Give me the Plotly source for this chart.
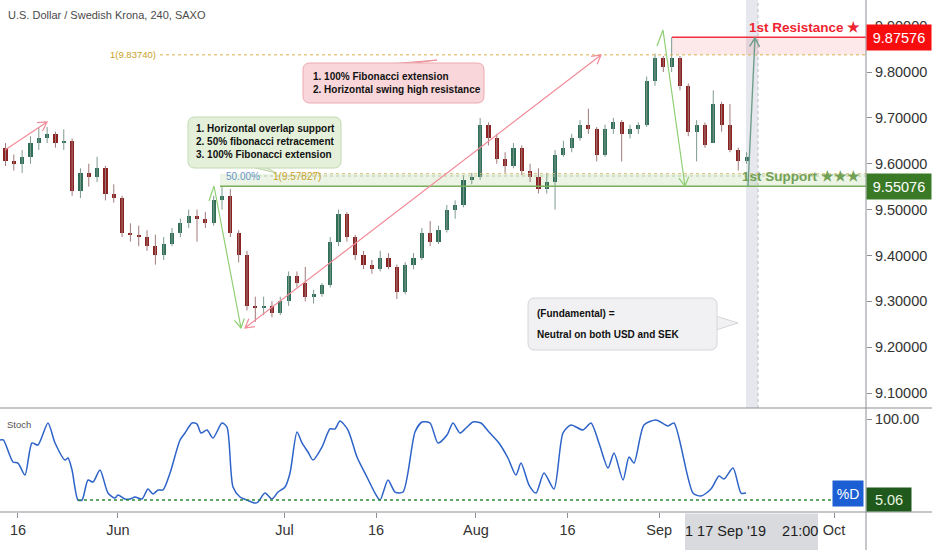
import math
import numpy as np
import pandas as pd
import plotly.graph_objects as go

TITLE = "U.S. Dollar / Swedish Krona, 240, SAXO"

# ---------------- data ----------------
dates = pd.bdate_range("2019-05-14", "2019-09-16")   # 90 trading days (weekends removed)

open_ = [9.635, 9.605, 9.600, 9.615, 9.645, 9.655, 9.665, 9.645, 9.650, 9.540,
         9.580, 9.570, 9.590, 9.535, 9.525, 9.450, 9.445, 9.440, 9.420, 9.400,
         9.425, 9.450, 9.470, 9.485, 9.480, 9.470, 9.520, 9.530, 9.450, 9.400,
         9.290, 9.285, 9.290, 9.275, 9.300, 9.355, 9.340, 9.310, 9.315, 9.335,
         9.430, 9.490, 9.440, 9.400, 9.380, 9.370, 9.395, 9.375, 9.320, 9.380,
         9.395, 9.450, 9.430, 9.455, 9.500, 9.510, 9.565, 9.570, 9.685, 9.655,
         9.610, 9.595, 9.635, 9.585, 9.570, 9.545, 9.560, 9.620, 9.635, 9.655,
         9.685, 9.675, 9.620, 9.675, 9.690, 9.665, 9.675, 9.685, 9.780, 9.830,
         9.810, 9.830, 9.770, 9.670, 9.685, 9.645, 9.730, 9.685, 9.630, 9.605]
high = [9.645, 9.620, 9.630, 9.660, 9.680, 9.680, 9.670, 9.675, 9.655, 9.590,
        9.600, 9.615, 9.595, 9.555, 9.530, 9.470, 9.465, 9.455, 9.445, 9.440,
        9.460, 9.480, 9.500, 9.500, 9.495, 9.530, 9.550, 9.545, 9.455, 9.410,
        9.310, 9.310, 9.300, 9.310, 9.365, 9.365, 9.375, 9.325, 9.340, 9.440,
        9.500, 9.495, 9.445, 9.410, 9.390, 9.410, 9.405, 9.380, 9.385, 9.405,
        9.460, 9.475, 9.465, 9.510, 9.520, 9.575, 9.580, 9.700, 9.690, 9.665,
        9.625, 9.645, 9.640, 9.600, 9.590, 9.580, 9.630, 9.650, 9.665, 9.695,
        9.720, 9.680, 9.685, 9.700, 9.695, 9.685, 9.690, 9.790, 9.840, 9.835,
        9.876, 9.835, 9.775, 9.695, 9.690, 9.760, 9.735, 9.730, 9.635, 9.625]
low = [9.595, 9.585, 9.580, 9.600, 9.630, 9.645, 9.635, 9.630, 9.530, 9.525,
       9.550, 9.560, 9.520, 9.515, 9.440, 9.430, 9.420, 9.410, 9.380, 9.390,
       9.420, 9.440, 9.460, 9.430, 9.460, 9.465, 9.500, 9.440, 9.385, 9.280,
       9.255, 9.270, 9.265, 9.270, 9.290, 9.330, 9.300, 9.295, 9.310, 9.330,
       9.420, 9.430, 9.390, 9.370, 9.360, 9.365, 9.370, 9.305, 9.315, 9.370,
       9.390, 9.420, 9.425, 9.450, 9.480, 9.505, 9.555, 9.565, 9.640, 9.600,
       9.580, 9.590, 9.575, 9.560, 9.535, 9.535, 9.500, 9.615, 9.625, 9.650,
       9.665, 9.605, 9.615, 9.665, 9.605, 9.655, 9.665, 9.680, 9.770, 9.800,
       9.800, 9.760, 9.660, 9.605, 9.635, 9.645, 9.670, 9.625, 9.585, 9.600]
close = [9.605, 9.600, 9.615, 9.645, 9.655, 9.665, 9.645, 9.650, 9.540, 9.580,
         9.570, 9.590, 9.535, 9.525, 9.450, 9.445, 9.440, 9.420, 9.400, 9.425,
         9.450, 9.470, 9.485, 9.480, 9.470, 9.520, 9.530, 9.450, 9.400, 9.290,
         9.285, 9.290, 9.275, 9.300, 9.355, 9.340, 9.310, 9.315, 9.335, 9.430,
         9.490, 9.440, 9.400, 9.380, 9.370, 9.395, 9.375, 9.320, 9.380, 9.395,
         9.450, 9.430, 9.455, 9.500, 9.510, 9.565, 9.570, 9.685, 9.655, 9.610,
         9.595, 9.635, 9.585, 9.570, 9.545, 9.560, 9.620, 9.635, 9.655, 9.685,
         9.675, 9.620, 9.675, 9.690, 9.665, 9.675, 9.685, 9.780, 9.830, 9.810,
         9.830, 9.770, 9.670, 9.685, 9.640, 9.730, 9.685, 9.630, 9.605, 9.615]

# Stochastic %D, sampled along the trading-day scale
stoch_x = [0.84, 1.24, 2.40, 3.00, 3.84, 4.68, 5.40, 6.60, 7.45, 8.65, 9.01, 9.49, 10.21, 10.69,
           11.41, 12.01, 12.85, 13.81, 14.65, 15.01, 15.85, 16.45, 17.05, 17.89, 18.61, 19.21,
           19.82, 20.42, 21.26, 22.46, 23.06, 23.90, 24.50, 24.98, 25.70, 26.42, 27.50, 28.10,
           28.82, 29.66, 30.50, 31.46, 31.82, 32.66, 33.50, 34.23, 35.07, 35.67, 36.51, 37.11,
           37.83, 38.43, 39.51, 40.47, 41.07, 41.67, 42.63, 43.71, 44.91, 45.88, 46.48, 47.44,
           48.28, 49.24, 50.68, 51.52, 52.48, 53.44, 54.52, 55.24, 56.08, 56.80, 57.64, 58.60,
           59.56, 60.76, 61.84, 62.80, 63.41, 64.37, 65.21, 66.17, 67.37, 68.45, 69.41, 70.85,
           71.81, 72.77, 73.86, 74.58, 75.66, 76.38, 76.98, 78.18, 79.62, 81.06, 81.78, 84.06,
           85.02, 86.22, 87.19, 87.79, 88.87, 89.83, 90.43]
stoch_v = [75.4, 75.4, 49.6, 48.4, 34.3, 71.9, 69.5, 95.3, 71.9, 51.9, 54.3, 40.2, 5.0, 5.0,
           28.5, 26.1, 40.2, 13.2, 7.4, 10.9, 6.2, 6.2, 8.6, 6.2, 17.9, 12.1,
           16.8, 16.8, 36.7, 75.4, 83.6, 95.3, 94.1, 83.6, 87.1, 77.7, 95.3, 90.6,
           20.3, 8.6, 5.0, 1.5, 2.7, 13.2, 6.2, 14.4, 20.3, 36.7, 84.8, 71.9,
           61.3, 51.9, 67.2, 88.3, 88.3, 97.7, 87.1, 55.5, 32.0, 13.2, 5.0, 28.5,
           14.4, 14.4, 84.8, 96.5, 95.3, 71.9, 81.2, 95.3, 83.6, 89.4, 96.5, 95.3,
           84.8, 71.9, 54.3, 34.3, 48.4, 22.6, 13.2, 36.7, 17.9, 83.6, 93.0, 87.1,
           95.3, 71.9, 42.6, 60.1, 28.5, 55.5, 48.4, 93.0, 98.8, 91.8, 95.3, 13.2,
           9.7, 17.9, 33.2, 29.7, 42.6, 13.2, 13.2]

price_ticks = [9.1, 9.2, 9.3, 9.4, 9.5, 9.6, 9.7, 9.8, 9.9]
time_tick_dates = ["2019-05-16", "2019-06-03", "2019-07-01", "2019-07-16",
                   "2019-08-01", "2019-08-16", "2019-09-02", "2019-10-01"]
time_tick_text = ["16", "Jun", "Jul", "16", "Aug", "16", "Sep", "Oct"]

resistance = 9.87576
support = 9.55076
fib_ext_1 = 9.83740
fib_ret_1 = 9.57827
stoch_last = 5.06

# ---------------- scales ----------------
BASE = np.datetime64("2019-05-13")


def day_idx(d):
    return float(np.busday_count(BASE, np.datetime64(pd.Timestamp(d).date())))


candle_x = [day_idx(d) + 0.5 for d in dates]
tick_vals = [day_idx(d) for d in time_tick_dates]

XR = [0.84, 104.84]
YR = [9.0673, 9.957]
SR = [-9.0, 112.9]
PW, PH = 866.0, 408.0


def fpx(x):
    return (x - XR[0]) / (XR[1] - XR[0]) * PW


def fpy(y):
    return (YR[1] - y) / (YR[1] - YR[0]) * PH


def dx(px):
    return XR[0] + px / PW * (XR[1] - XR[0])


def dy(py):
    return YR[1] - py / PH * (YR[1] - YR[0])


def P(px, py):
    return f"{dx(px):.5f},{dy(py):.6f}"


def arrow_path(x0, y0, x1, y1, start=False, end=True, L=10, ang=30):
    a, b = (fpx(x0), fpy(y0)), (fpx(x1), fpy(y1))
    path = f"M{P(*a)} L{P(*b)}"

    def head(tip, tail):
        vx, vy = tail[0] - tip[0], tail[1] - tip[1]
        n = math.hypot(vx, vy)
        ux, uy = vx / n, vy / n
        pts = []
        for s in (1, -1):
            t = math.radians(ang) * s
            rx = ux * math.cos(t) - uy * math.sin(t)
            ry = ux * math.sin(t) + uy * math.cos(t)
            pts.append((tip[0] + L * rx, tip[1] + L * ry))
        return f" M{P(*pts[0])} L{P(*tip)} L{P(*pts[1])}"

    if end:
        path += head(b, a)
    if start:
        path += head(a, b)
    return path


def rrect(x0, y0, x1, y1, r=7):
    Lp, Rp, Tp, Bp = fpx(x0), fpx(x1), fpy(y1), fpy(y0)
    return (f"M{P(Lp + r, Tp)} L{P(Rp - r, Tp)} Q{P(Rp, Tp)} {P(Rp, Tp + r)} "
            f"L{P(Rp, Bp - r)} Q{P(Rp, Bp)} {P(Rp - r, Bp)} L{P(Lp + r, Bp)} "
            f"Q{P(Lp, Bp)} {P(Lp, Bp - r)} L{P(Lp, Tp + r)} Q{P(Lp, Tp)} {P(Lp + r, Tp)} Z")


def tri(pts):
    return "M" + " L".join(f"{x:.5f},{y:.6f}" for x, y in pts) + " Z"


# ---------------- figure ----------------
fig = go.Figure()

UP, DOWN = "#2f6e57", "#8c2121"
is_up = [c >= o for o, c in zip(open_, close)]

# wicks
for flag, col in ((True, "#7f9a8e"), (False, "#a07a7a")):
    wx, wy = [], []
    for x, h, l, u in zip(candle_x, high, low, is_up):
        if u == flag:
            wx += [x, x, None]
            wy += [l, h, None]
    fig.add_trace(go.Scatter(x=wx, y=wy, mode="lines", line=dict(color=col, width=1),
                             xaxis="x", yaxis="y", hoverinfo="skip", showlegend=False))

# bodies
fig.add_trace(go.Bar(
    x=candle_x,
    base=[min(o, c) for o, c in zip(open_, close)],
    y=[max(abs(c - o), 0.003) for o, c in zip(open_, close)],
    width=0.5, marker=dict(color=[UP if u else DOWN for u in is_up], line=dict(width=0)),
    xaxis="x", yaxis="y", hoverinfo="skip", showlegend=False))

fig.add_trace(go.Scatter(
    x=stoch_x, y=stoch_v, mode="lines", line=dict(color="#2d63c8", width=1.5, shape="spline", smoothing=0.7),
    xaxis="x2", yaxis="y2", hoverinfo="skip", showlegend=False))

FONT = "Liberation Sans, Arial, sans-serif"
shapes = []
ann = []

# vertical highlighted band (crosshair)
shapes.append(dict(type="rect", xref="x", yref="y domain", x0=dx(746), x1=dx(758), y0=0, y1=1,
                   fillcolor="#e6e8ed", line=dict(width=0), layer="below"))
shapes.append(dict(type="line", xref="x", yref="y domain", x0=dx(758), x1=dx(758), y0=0, y1=1,
                   line=dict(color="#b8bcc6", width=1, dash="dot"), layer="below"))

# resistance zone
shapes.append(dict(type="rect", xref="x", yref="y", x0=dx(672), x1=XR[1], y0=fib_ext_1, y1=resistance,
                   fillcolor="rgba(242,80,90,0.13)", line=dict(width=0), layer="below"))
shapes.append(dict(type="line", xref="x", yref="y", x0=dx(160), x1=XR[1], y0=fib_ext_1, y1=fib_ext_1,
                   line=dict(color="#d9b14a", width=1, dash="dot")))
shapes.append(dict(type="line", xref="x", yref="y", x0=dx(672), x1=XR[1], y0=resistance, y1=resistance,
                   line=dict(color="#f0303c", width=1.6)))

# support zone
shapes.append(dict(type="rect", xref="x", yref="y", x0=dx(220), x1=XR[1], y0=support, y1=fib_ret_1,
                   fillcolor="rgba(150,200,110,0.18)", line=dict(width=0), layer="below"))
shapes.append(dict(type="line", xref="x", yref="y", x0=dx(252), x1=XR[1], y0=dy(176), y1=dy(176),
                   line=dict(color="#b5c9a8", width=1, dash="dot")))
shapes.append(dict(type="line", xref="x", yref="y", x0=dx(312), x1=XR[1], y0=fib_ret_1, y1=fib_ret_1,
                   line=dict(color="#d9c07a", width=1, dash="dot")))
shapes.append(dict(type="line", xref="x", yref="y", x0=dx(220), x1=XR[1], y0=support, y1=support,
                   line=dict(color="#79ae5a", width=1.6)))

# trend arrows
PINK = "#f28b98"
GREEN = "#8fcf73"
shapes.append(dict(type="path", xref="x", yref="y", path=arrow_path(dx(5), dy(150), dx(47), dy(122)),
                   line=dict(color=PINK, width=1.2)))
shapes.append(dict(type="path", xref="x", yref="y", path=arrow_path(dx(245), dy(328), dx(601), dy(55), start=True),
                   line=dict(color=PINK, width=1.2)))
shapes.append(dict(type="path", xref="x", yref="y",
                   path=f"M{P(209, 201)} L{P(214, 186)} " + arrow_path(dx(214), dy(186), dx(241), dy(328)),
                   line=dict(color=GREEN, width=1.2)))
shapes.append(dict(type="path", xref="x", yref="y",
                   path=f"M{P(657, 46)} L{P(663, 30)} " + arrow_path(dx(663), dy(30), dx(685), dy(186)),
                   line=dict(color=GREEN, width=1.2)))
shapes.append(dict(type="path", xref="x", yref="y", path=arrow_path(dx(748), dy(186), dx(755), dy(38)),
                   line=dict(color="#6f9f8c", width=1.4)))

# callout boxes
shapes.append(dict(type="path", xref="x", yref="y",
                   path=tri([(dx(395), dy(63.5)), (dx(437), dy(60)), (dx(412), dy(63.5))]),
                   fillcolor="#f6c9ce", line=dict(color="#ee8f9a", width=1)))
shapes.append(dict(type="path", xref="x", yref="y", path=rrect(dx(303), dy(103), dx(484), dy(63)),
                   fillcolor="#f9d6d9", line=dict(color="#ecaab2", width=1)))
shapes.append(dict(type="path", xref="x", yref="y",
                   path=tri([(dx(252), dy(167)), (dx(276), dy(173)), (dx(266), dy(167))]),
                   fillcolor="#e3efd9", line=dict(color="#bcd5aa", width=1)))
shapes.append(dict(type="path", xref="x", yref="y", path=rrect(dx(188), dy(168), dx(341), dy(117)),
                   fillcolor="#e4f0da", line=dict(color="#c3dab2", width=1)))
shapes.append(dict(type="path", xref="x", yref="y",
                   path=tri([(dx(716), dy(316)), (dx(738), dy(323)), (dx(716), dy(330))]),
                   fillcolor="#f1f1f3", line=dict(color="#d6d6da", width=1)))
shapes.append(dict(type="path", xref="x", yref="y", path=rrect(dx(528), dy(350), dx(717), dy(298)),
                   fillcolor="#f1f1f3", line=dict(color="#d6d6da", width=1)))

# stoch level line
shapes.append(dict(type="line", xref="x2", yref="y2", x0=dx(78), x1=dx(833), y0=stoch_last, y1=stoch_last,
                   line=dict(color="#2e8b3a", width=1.3, dash="dot")))

# pane frame lines
XE = 932.0 / PW
DOM = 104.0 / 512.0
shapes.append(dict(type="line", xref="paper", yref="paper", x0=0, x1=XE, y0=DOM, y1=DOM,
                   line=dict(color="#8d8f96", width=1)))
shapes.append(dict(type="line", xref="paper", yref="paper", x0=0, x1=XE, y0=0, y1=0,
                   line=dict(color="#8d8f96", width=1)))
shapes.append(dict(type="line", xref="paper", yref="paper", x0=1, x1=1, y0=-38 / 512, y1=1,
                   line=dict(color="#8d8f96", width=1)))
# time crosshair label box
shapes.append(dict(type="rect", xref="paper", yref="paper", x0=685 / PW, x1=818 / PW, y0=-38 / 512, y1=-1.5 / 512,
                   fillcolor="#d9dadd", line=dict(width=0)))

# ---------- texts ----------
ann.append(dict(xref="paper", yref="paper", x=6 / PW, y=1 - 15 / 512, xanchor="left", yanchor="middle",
                text=TITLE, showarrow=False, font=dict(family=FONT, size=11, color="#4a4a4a")))
ann.append(dict(xref="x", yref="y", x=dx(158), y=fib_ext_1, xanchor="right", yanchor="middle",
                text="1(9.83740)", showarrow=False, font=dict(family=FONT, size=9.5, color="#c9a227")))
ann.append(dict(xref="x", yref="y", x=dx(224), y=dy(176), xanchor="left", yanchor="middle",
                text="50.00%", showarrow=False, font=dict(family=FONT, size=10, color="#6a97cc")))
ann.append(dict(xref="x", yref="y", x=dx(271), y=dy(176), xanchor="left", yanchor="middle",
                text="1(9.57827)", showarrow=False, font=dict(family=FONT, size=10, color="#c9a227")))

BOXFONT = dict(family=FONT, size=10, color="#111111")
ann.append(dict(xref="x", yref="y", x=dx(311), y=dy(83), xanchor="left", yanchor="middle", align="left",
                text="<b>1. 100% Fibonacci extension<br>2. Horizontal swing high resistance</b>",
                showarrow=False, font=BOXFONT))
ann.append(dict(xref="x", yref="y", x=dx(194), y=dy(141.5), xanchor="left", yanchor="middle", align="left",
                text="<b>1. Horizontal overlap support<br>2. 50% fibonacci retracement<br>3. 100% Fibonacci extension</b>",
                showarrow=False, font=BOXFONT))
ann.append(dict(xref="x", yref="y", x=dx(535), y=dy(313), xanchor="left", yanchor="middle",
                text="<b>(Fundamental) =</b>", showarrow=False, font=BOXFONT))
ann.append(dict(xref="x", yref="y", x=dx(535), y=dy(334), xanchor="left", yanchor="middle",
                text="<b>Neutral on both USD and SEK</b>", showarrow=False, font=BOXFONT))

ann.append(dict(xref="paper", yref="y", x=862 / PW, y=resistance, xanchor="right", yanchor="bottom",
                text="<b>1st Resistance ★</b>", showarrow=False, font=dict(family=FONT, size=13.5, color="#ee2530")))
ann.append(dict(xref="paper", yref="y", x=862 / PW, y=support, xanchor="right", yanchor="bottom",
                text="<b>1st Support ★★★</b>", showarrow=False, font=dict(family=FONT, size=13.5, color="#72a055")))

# price labels on the axis
ann.append(dict(xref="paper", yref="y", x=1, y=resistance, xanchor="left", yanchor="middle",
                text=f"{resistance:.5f}", showarrow=False, bgcolor="#f70d0d", width=64, height=25, borderpad=0,
                font=dict(family=FONT, size=14.5, color="white")))
ann.append(dict(xref="paper", yref="y", x=1, y=support, xanchor="left", yanchor="middle",
                text=f"{support:.5f}", showarrow=False, bgcolor="#3a7a27", width=64, height=25, borderpad=0,
                font=dict(family=FONT, size=14.5, color="white")))
ann.append(dict(xref="paper", yref="y2", x=1, y=stoch_last + 0.5, xanchor="left", yanchor="middle",
                text=f"{stoch_last:.2f}", showarrow=False, bgcolor="#1f5a1c", width=44, height=23, borderpad=0,
                font=dict(family=FONT, size=14.5, color="#e8f5e0")))
ann.append(dict(xref="paper", yref="y2", x=848 / PW, y=13.2, xanchor="center", yanchor="middle",
                text="%D", showarrow=False, bgcolor="#1c5fd4", width=30, height=25, borderpad=0,
                font=dict(family=FONT, size=14, color="white")))
ann.append(dict(xref="paper", yref="paper", x=5 / PW, y=(512 - 424) / 512, xanchor="left", yanchor="middle",
                text="Stoch", showarrow=False, font=dict(family=FONT, size=9.5, color="#555555")))
ann.append(dict(xref="paper", yref="paper", x=751 / PW, y=-19 / 512, xanchor="center", yanchor="middle",
                text="1 17 Sep '19    21:00", showarrow=False, font=dict(family=FONT, size=14.5, color="#1e1e1e")))

AX = dict(showgrid=False, zeroline=False, showspikes=False, automargin=False, showline=False)
TICKFONT = dict(family=FONT, size=14.5, color="#333333")
fig.update_layout(
    template="none",
    width=932, height=550,
    margin=dict(l=0, r=66, t=0, b=38, pad=0),
    paper_bgcolor="white", plot_bgcolor="white",
    showlegend=False, hovermode=False, bargap=0,
    xaxis=dict(domain=[0, 1], anchor="y", range=XR, showticklabels=False, ticks="",
               rangeslider=dict(visible=False), **AX),
    xaxis2=dict(domain=[0, 1], anchor="y2", range=XR, matches="x", tickmode="array",
                tickvals=tick_vals, ticktext=time_tick_text, ticks="outside", ticklen=5,
                tickcolor="#8d8f96", tickfont=TICKFONT, **AX),
    yaxis=dict(domain=[DOM, 1], anchor="x", side="right", range=YR, tickmode="array",
               tickvals=price_ticks, ticktext=[f"{t:.5f}" for t in price_ticks],
               ticks="outside", ticklen=5, tickcolor="#8d8f96", tickfont=TICKFONT, **AX),
    yaxis2=dict(domain=[0, DOM], anchor="x2", side="right", range=SR, tickmode="array",
                tickvals=[100], ticktext=["100.00"], ticks="outside", ticklen=5, tickcolor="#8d8f96",
                tickfont=TICKFONT, **AX),
    shapes=shapes, annotations=ann,
)

# the page's default 8px body margin would shift the chart; remove it
fig.write_html("out.html", config={"displayModeBar": False},
               post_script="document.body.style.margin='0';document.body.style.overflow='hidden';")
